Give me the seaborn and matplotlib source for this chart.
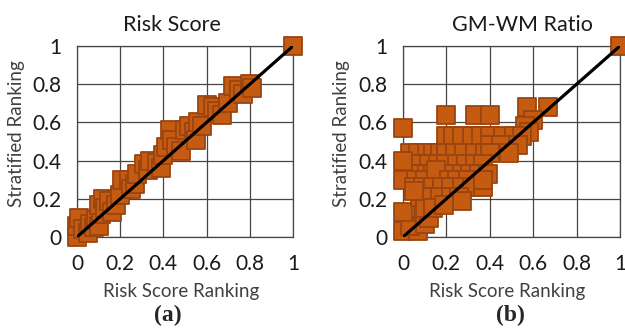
import matplotlib
matplotlib.use("Agg")
import matplotlib.pyplot as plt
import seaborn as sns

sns.set_style("white")
plt.rcParams["font.family"] = ["Lato", "DejaVu Sans"]

# Panel (a): Risk Score
risk_x = [0.00, 0.00, 0.01, 0.03, 0.05, 0.06, 0.08, 0.09, 0.10, 0.11,
          0.10, 0.12, 0.13, 0.15, 0.16, 0.18, 0.20, 0.21, 0.24, 0.25,
          0.27, 0.28, 0.31, 0.33, 0.34, 0.37, 0.39, 0.40, 0.41, 0.43,
          0.44, 0.46, 0.48, 0.50, 0.52, 0.54, 0.55, 0.56, 0.58, 0.60,
          0.63, 0.65, 0.67, 0.70, 0.72, 0.75, 0.77, 0.80, 0.81, 1.00]
risk_y = [0.00, 0.06, 0.10, 0.04, 0.02, 0.07, 0.05, 0.09, 0.06, 0.12,
          0.17, 0.20, 0.15, 0.19, 0.13, 0.17, 0.22, 0.30, 0.30, 0.25,
          0.28, 0.33, 0.38, 0.35, 0.40, 0.39, 0.36, 0.43, 0.47, 0.56,
          0.51, 0.47, 0.45, 0.56, 0.58, 0.55, 0.51, 0.60, 0.58, 0.69,
          0.68, 0.66, 0.64, 0.70, 0.79, 0.77, 0.75, 0.80, 0.78, 1.00]

# Panel (b): GM-WM Ratio
gmwm_x = [0.00, 0.07, 0.03, 0.00, 0.09, 0.10, 0.12, 0.00,
          0.20, 0.33, 0.40, 0.57, 0.67, 0.60, 0.56, 0.58,
          0.20, 0.23, 0.27, 0.32, 0.36, 0.40, 0.46, 0.51, 0.55,
          0.40, 0.45, 0.53, 0.49,
          0.03, 0.07, 0.11, 0.14, 0.17, 0.20, 0.24, 0.28, 0.33, 0.38, 0.40,
          0.03, 0.08, 0.12, 0.16, 0.20, 0.25, 0.29, 0.33, 0.37,
          0.03, 0.07, 0.11, 0.14, 0.19, 0.23, 0.27, 0.31, 0.35, 0.39,
          0.00, 0.00, 0.06, 0.10, 0.15, 0.21, 0.25, 0.30,
          0.05, 0.09, 0.14, 0.18, 0.22, 0.27, 0.32, 0.37, 0.37,
          0.08, 0.12, 0.17, 0.22, 0.26, 0.27,
          0.10, 0.14, 0.19, 0.05, 1.00]
gmwm_y = [0.03, 0.03, 0.06, 0.13, 0.13, 0.07, 0.10, 0.57,
          0.64, 0.64, 0.64, 0.68, 0.68, 0.61, 0.58, 0.55,
          0.53, 0.53, 0.53, 0.53, 0.53, 0.53, 0.53, 0.53, 0.53,
          0.48, 0.48, 0.48, 0.44,
          0.44, 0.44, 0.44, 0.44, 0.44, 0.44, 0.44, 0.44, 0.44, 0.44, 0.44,
          0.38, 0.38, 0.38, 0.38, 0.38, 0.38, 0.38, 0.38, 0.38,
          0.33, 0.33, 0.33, 0.33, 0.33, 0.33, 0.33, 0.33, 0.33, 0.33,
          0.40, 0.30, 0.30, 0.30, 0.35, 0.30, 0.30, 0.30,
          0.26, 0.26, 0.26, 0.26, 0.26, 0.26, 0.26, 0.26, 0.30,
          0.21, 0.21, 0.21, 0.21, 0.21, 0.19,
          0.15, 0.15, 0.17, 0.24, 1.00]

ticks = [0, 0.2, 0.4, 0.6, 0.8, 1]
tick_labels = ["0", "0.2", "0.4", "0.6", "0.8", "1"]

face = "#C55A11"
edge = "#9A4410"
grid_c = "#454545"

fig = plt.figure(figsize=(6.25, 3.29), dpi=100)
W, H = 625, 329

def px_axes(l, r, t, b):
    return fig.add_axes([l / W, 1 - b / H, (r - l) / W, (b - t) / H])

panels = [
    (px_axes(77, 293, 46, 237), risk_x, risk_y, "Risk Score", 172, 17, "(a)", 168),
    (px_axes(403, 620, 46, 237), gmwm_x, gmwm_y, "GM-WM Ratio", 522, 341, "(b)", 510),
]

for ax, xs, ys, title, tx, ylx, tag, tagx in panels:
    sns.scatterplot(x=xs, y=ys, ax=ax, marker="s", s=150, color=face,
                    edgecolor=edge, linewidth=1.3, clip_on=False, zorder=3)
    ax.plot([0, 1], [0, 1], color="black", linewidth=2.3, zorder=4,
            solid_capstyle="round")
    ax.set_xlim(0, 1)
    ax.set_ylim(0, 1)
    ax.set_xticks(ticks)
    ax.set_yticks(ticks)
    ax.set_xticklabels(tick_labels)
    ax.set_yticklabels(tick_labels)
    ax.tick_params(length=0, labelsize=15, colors="#1a1a1a")
    ax.tick_params(axis="y", pad=11)
    ax.tick_params(axis="x", pad=12)
    ax.grid(True, color=grid_c, linewidth=0.9)
    ax.set_axisbelow(True)
    for sp in ax.spines.values():
        sp.set_color(grid_c)
        sp.set_linewidth(0.9)
    ax.set_xlabel("")
    ax.set_ylabel("")
    fig.text(tx / W, 1 - 25 / H, title, ha="center", va="center",
             fontsize=15.5, color="#1a1a1a")
    fig.text(ylx / W, 1 - 134 / H, "Stratified Ranking", rotation=90,
             ha="center", va="center", fontsize=13.5, color="#404040")
    axc = (ax.get_position().x0 + ax.get_position().x1) / 2
    fig.text(axc - 4 / W, 1 - 291 / H, "Risk Score Ranking", ha="center",
             va="center", fontsize=13.5, color="#404040")
    fig.text(tagx / W, 1 - 315 / H, tag, ha="center", va="center",
             fontsize=17, fontweight="bold", family="Liberation Serif")

fig.savefig("out.png", dpi=100)
